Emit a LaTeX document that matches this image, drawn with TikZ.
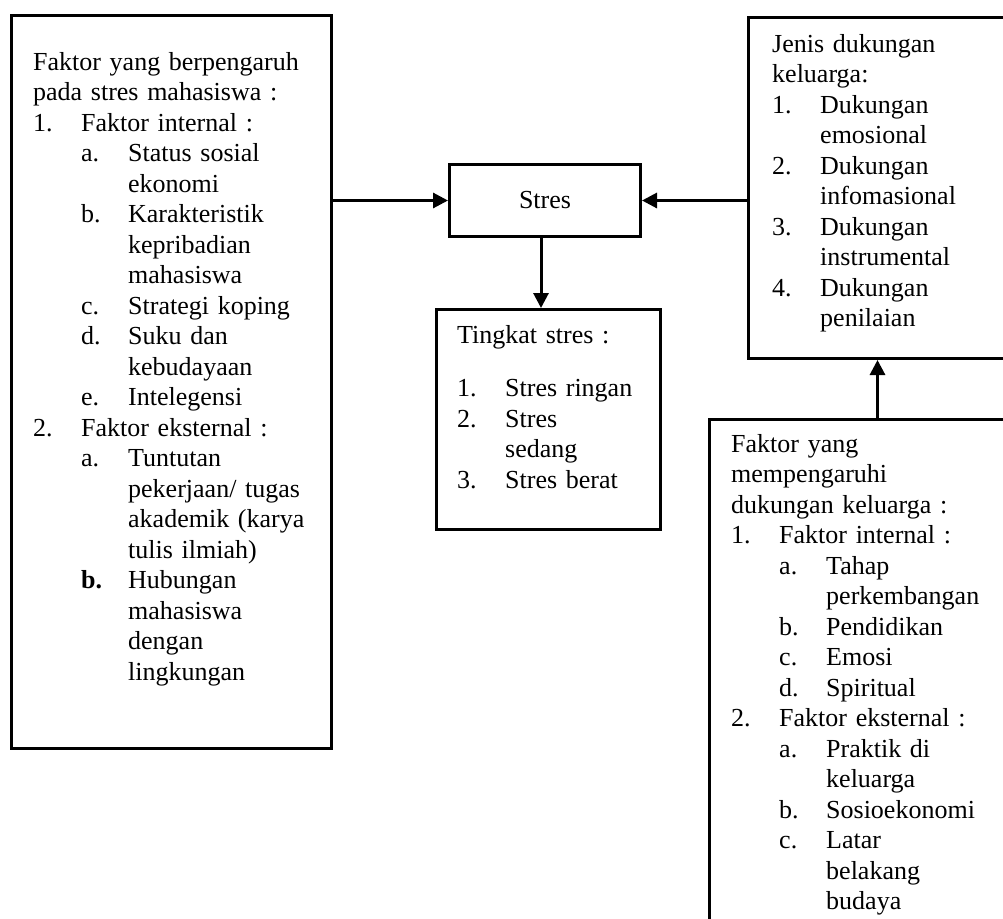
\documentclass[tikz,border=0pt]{standalone}
\usepackage{fontspec}
\setmainfont{Liberation Serif}
\usetikzlibrary{arrows.meta}

% list lines: number/letter + text
\newcommand{\lvi}[2]{\makebox[48pt][l]{#1}#2}
\newcommand{\lvii}[2]{\hspace*{48pt}\makebox[47pt][l]{#1}#2}
\newcommand{\cti}{\hspace*{48pt}}
\newcommand{\ctii}{\hspace*{95pt}}

\tikzset{
  kotak/.style={draw, line width=3pt, inner sep=0pt, anchor=north west},
  isi/.style={anchor=base west, inner sep=0pt, text width=300pt, align=left,
    font=\fontsize{26}{30.5}\selectfont},
  panah/.style={line width=3pt, -{Triangle[length=15pt,width=15pt]}}
}

\begin{document}
\begin{tikzpicture}[x=1pt,y=-1pt]
\useasboundingbox (0,0) rectangle (1003,918);
\clip (0,0) rectangle (1003,918);

% boxes
\node[kotak, minimum width=320pt, minimum height=733pt] (faktor) at (10,14) {};
\node[kotak, minimum width=191pt, minimum height=72pt,
  font=\fontsize{26}{30.5}\selectfont] (stres) at (448,163) {Stres};
\node[kotak, minimum width=224pt, minimum height=220pt] (tingkat) at (435,308) {};
\node[kotak, minimum width=258pt, minimum height=341pt] (jenis) at (747,16) {};
\node[kotak, minimum width=297pt, minimum height=540pt] (faktorkel) at (708,418) {};

% texts
\node[isi] (tfaktor) at (33,70) {Faktor yang berpengaruh\\
pada stres mahasiswa :\\
\lvi{1.}{Faktor internal :}\\
\lvii{a.}{Status sosial}\\
\ctii ekonomi\\
\lvii{b.}{Karakteristik}\\
\ctii kepribadian\\
\ctii mahasiswa\\
\lvii{c.}{Strategi koping}\\
\lvii{d.}{Suku dan}\\
\ctii kebudayaan\\
\lvii{e.}{Intelegensi}\\
\lvi{2.}{Faktor eksternal :}\\
\lvii{a.}{Tuntutan}\\
\ctii pekerjaan/ tugas\\
\ctii akademik (karya\\
\ctii tulis ilmiah)\\
\lvii{\textbf{b.}}{Hubungan}\\
\ctii mahasiswa\\
\ctii dengan\\
\ctii lingkungan};

\node[isi] (ttingkat) at (457,343) {Tingkat stres :\\[23pt]
\lvi{1.}{Stres ringan}\\
\lvi{2.}{Stres}\\
\cti sedang\\
\lvi{3.}{Stres berat}};

\node[isi] (tjenis) at (772,52) {Jenis dukungan\\
keluarga:\\
\lvi{1.}{Dukungan}\\
\cti emosional\\
\lvi{2.}{Dukungan}\\
\cti infomasional\\
\lvi{3.}{Dukungan}\\
\cti instrumental\\
\lvi{4.}{Dukungan}\\
\cti penilaian};

\node[isi] (tfaktorkel) at (731,452) {Faktor yang\\
mempengaruhi\\
dukungan keluarga :\\
\lvi{1.}{Faktor internal :}\\
\lvii{a.}{Tahap}\\
\ctii perkembangan\\
\lvii{b.}{Pendidikan}\\
\lvii{c.}{Emosi}\\
\lvii{d.}{Spiritual}\\
\lvi{2.}{Faktor eksternal :}\\
\lvii{a.}{Praktik di}\\
\ctii keluarga\\
\lvii{b.}{Sosioekonomi}\\
\lvii{c.}{Latar}\\
\ctii belakang\\
\ctii budaya};

% arrows
\draw[panah] (stres.west -| faktor.east) -- (stres.west);
\draw[panah] (stres.east -| jenis.west) -- (stres.east);
\draw[panah] ([xshift=-4pt]stres.south) -- ([xshift=-4pt]stres.south |- tingkat.north);
\draw[panah] (jenis.south |- faktorkel.north) -- (jenis.south);
\end{tikzpicture}
\end{document}
